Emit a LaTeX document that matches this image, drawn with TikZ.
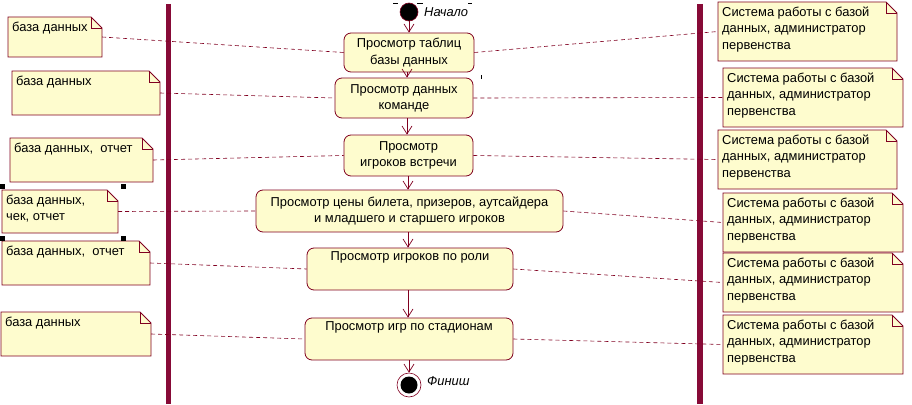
\documentclass[tikz,border=0pt]{standalone}
\usepackage{fontspec}
\setmainfont{Liberation Sans}
\usetikzlibrary{arrows.meta,calc,fit}

\definecolor{laneC}{RGB}{135,10,55}
\definecolor{edgeC}{RGB}{128,0,32}
\definecolor{paperC}{RGB}{254,252,206}

\tikzset{
  every node/.style={font=\fontsize{12.9}{16.2}\selectfont},
  act/.style={rectangle, rounded corners=7pt, draw=edgeC, fill=paperC,
    line width=0.8pt, inner sep=0pt, align=center},
  flow/.style={draw=edgeC, line width=0.7pt,
    -{Straight Barb[length=8pt,width=10pt,line width=0.7pt]}},
  link/.style={draw=edgeC, line width=0.6pt, dash pattern=on 4pt off 3pt},
  lane/.style={draw=laneC, line width=5.5pt},
  notetext/.style={anchor=north west, inner sep=0pt, align=left},
  handle/.style={fill=black, minimum size=5pt, inner sep=0pt},
  tick/.style={draw=black, line width=0.8pt}
}

% note with a folded corner: name, x1, y1, x2, y2, text
\newcommand\umlnote[6]{%
  \filldraw[draw=edgeC, fill=paperC, line width=0.8pt]
    (#2,#3) -- ({#4-11},#3) -- (#4,{#3+11}) -- (#4,#5) -- (#2,#5) -- cycle;
  \draw[edgeC, line width=0.8pt] ({#4-11},#3) -- ({#4-11},{#3+11}) -- (#4,{#3+11});
  \node[fit={(#2,#3) (#4,#5)}, inner sep=0pt] (#1) {};
  \node[notetext] at ({#2+4},{#3+5}) {#6};
}

\begin{document}
\begin{tikzpicture}[x=1pt, y=-1pt]
\useasboundingbox (0,0) rectangle (912,404);

% swimlane separators
\coordinate (laneLtop) at (168.5,4);
\coordinate (laneLbot) at (168.5,404);
\coordinate (laneRtop) at (700,4);
\coordinate (laneRbot) at (700,404);
\draw[lane] (laneLtop) -- (laneLbot);
\draw[lane] (laneRtop) -- (laneRbot);

% start and finish
\node[circle, fill=black, draw=edgeC, line width=0.6pt, minimum size=18pt, inner sep=0pt] (start) at (409,12) {};
\node[anchor=west, inner sep=0pt, font=\fontsize{12.9}{16}\selectfont\itshape] (startlbl) at (424,12) {Начало};
\node[circle, draw=edgeC, fill=white, line width=0.6pt, minimum size=24pt, inner sep=0pt] (finish) at (409,385) {};
\fill[black] (finish.center) circle (8.5);
\node[anchor=west, inner sep=0pt, font=\fontsize{12.9}{16}\selectfont\itshape] (finishlbl) at (427,381) {Финиш};

% activities
\node[act, minimum width=130pt, minimum height=39pt] (A1) at (409,52.5) {Просмотр таблиц\\базы данных};
\node[act, minimum width=138pt, minimum height=40pt] (A2) at (404,98) {Просмотр данных\\команде};
\node[act, minimum width=129pt, minimum height=41pt] (A3) at (408.5,155.5) {Просмотр\\игроков встречи};
\node[act, minimum width=307pt, minimum height=42pt] (A4) at (409.5,211)
  {Просмотр цены билета, призеров, аутсайдера\\и младшего и старшего игроков};
\node[act, minimum width=206pt, minimum height=42pt,
  label={[anchor=north, inner sep=0pt, yshift=-4pt]north:Просмотр игроков по роли}] (A5) at (410,269) {};
\node[act, minimum width=208pt, minimum height=42pt,
  label={[anchor=north, inner sep=0pt, yshift=-4pt]north:Просмотр игр по стадионам}] (A6) at (409,339) {};

% control flow
\draw[flow] (start) -- (A1.north);
\draw[flow] (A1.south -| 407,0) -- (A2.north -| 407,0);
\draw[flow] (A2.south -| 407,0) -- (A3.north -| 407,0);
\draw[flow] (A3.south -| 408,0) -- (A4.north -| 408,0);
\draw[flow] (A4.south -| 408,0) -- (A5.north -| 408,0);
\draw[flow] (A5.south -| 408,0) -- (A6.north -| 408,0);
\draw[flow] (A6.south -| 409,0) -- (finish.north);

% data notes
\umlnote{N1}{8}{17}{102}{57}{база данных}
\umlnote{N2}{12}{71}{160}{115}{база данных}
\umlnote{N3}{10}{138}{153}{182}{база данных,\ \ отчет}
\umlnote{N4}{2}{190}{118}{233}{база данных,\\чек, отчет}
\umlnote{N5}{2}{241}{150}{285}{база данных,\ \ отчет}
\umlnote{N6}{1}{312}{151}{356}{база данных}

% role notes
\umlnote{R1}{718}{2}{897}{61}{Система работы с базой\\данных, администратор\\первенства}
\umlnote{R2}{723}{68}{903}{127}{Система работы с базой\\данных, администратор\\первенства}
\umlnote{R3}{718}{130}{897}{189}{Система работы с базой\\данных, администратор\\первенства}
\umlnote{R4}{723}{193}{903}{252}{Система работы с базой\\данных, администратор\\первенства}
\umlnote{R5}{723}{253}{903}{312}{Система работы с базой\\данных, администратор\\первенства}
\umlnote{R6}{723}{315}{903}{374}{Система работы с базой\\данных, администратор\\первенства}

% note attachments
\draw[link] (N1.east) -- (A1.west);
\draw[link] (N2.east) -- (A2.west);
\draw[link] (N3.east) -- (A3.west);
\draw[link] (N4.east) -- (A4.west);
\draw[link] (N5.east) -- (A5.west);
\draw[link] (N6.east) -- (A6.west);
\draw[link] (A1.east) -- (R1.west);
\draw[link] (A2.east) -- (R2.west);
\draw[link] (A3.east) -- (R3.west);
\draw[link] (A4.east) -- (R4.west);
\draw[link] (A5.east) -- (R5.west);
\draw[link] (A6.east) -- (R6.west);

% selection handles
\node[handle] (h1) at (2,186) {};
\node[handle] (h2) at (123,186) {};
\node[handle] (h3) at (2,238) {};
\node[handle] (h4) at (123,238) {};
\draw[tick] (393,3) -- (398,3);
\draw[tick] (417,3) -- (423,3);
\draw[tick] (468,3) -- (472,3);
\draw[tick] (481,75) -- (481,79);
\end{tikzpicture}
\end{document}
